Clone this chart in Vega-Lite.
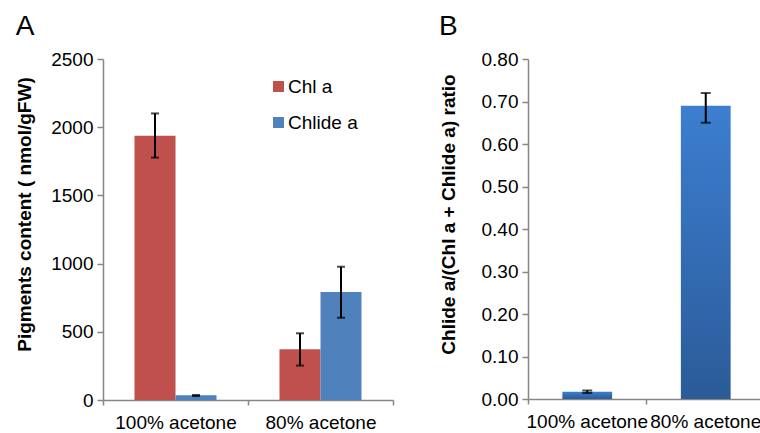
{
  "$schema": "https://vega.github.io/schema/vega-lite/v6.json",
  "background": "white",
  "padding": {"left": 15, "top": 13, "right": 0, "bottom": 0},
  "config": {
    "font": "Liberation Sans",
    "view": {"stroke": null},
    "axis": {"domainColor": "#868686", "tickColor": "#868686", "labelColor": "#000000", "labelFontSize": 19, "titleFontSize": 19, "titleFontWeight": "bold", "titleColor": "#000000", "grid": false, "tickSize": 6, "labelPadding": 4, "domainWidth": 1.5, "tickWidth": 1.5},
    "title": {"fontSize": 28, "fontWeight": "normal", "anchor": "start", "color": "#000000", "frame": "bounds"},
    "concat": {"spacing": 45}
  },
  "hconcat": [
    {
      "title": {"text": "A", "offset": 9},
      "width": 290,
      "height": 341,
      "data": {"values": [
        {"solvent": "100% acetone", "pigment": "Chl a", "value": 1938, "lo": 1777, "hi": 2101},
        {"solvent": "100% acetone", "pigment": "Chlide a", "value": 34, "lo": 29, "hi": 37},
        {"solvent": "80% acetone", "pigment": "Chl a", "value": 372, "lo": 252, "hi": 489},
        {"solvent": "80% acetone", "pigment": "Chlide a", "value": 792, "lo": 603, "hi": 977}
      ]},
      "encoding": {
        "x": {"field": "solvent", "type": "nominal", "sort": ["100% acetone", "80% acetone"], "scale": {"paddingInner": 0, "paddingOuter": 0}, "axis": {"title": null, "labelAngle": 0, "tickBand": "extent", "tickSize": 5, "labelPadding": 8}},
        "xOffset": {"field": "pigment", "type": "nominal", "sort": ["Chl a", "Chlide a"], "scale": {"paddingInner": 0, "paddingOuter": 0.768}}
      },
      "layer": [
        {
          "mark": {"type": "bar"},
          "encoding": {
            "y": {"field": "value", "type": "quantitative", "scale": {"domain": [0, 2500], "nice": false}, "axis": {"title": "Pigments content ( nmol/gFW)", "values": [0, 500, 1000, 1500, 2000, 2500], "format": "d", "titlePadding": 16, "titleY": 155}},
            "color": {"field": "pigment", "type": "nominal", "scale": {"domain": ["Chl a", "Chlide a"], "range": ["#c0504d", "#4f81bd"]}, "legend": {"title": null, "orient": "none", "legendX": 166, "legendY": 18, "symbolType": "square", "symbolSize": 121, "symbolStrokeWidth": 0, "labelFontSize": 19, "rowPadding": 16, "labelOffset": 0}}
          }
        },
        {
          "mark": {"type": "rule", "strokeWidth": 2, "color": "black"},
          "encoding": {"y": {"field": "lo", "type": "quantitative"}, "y2": {"field": "hi"}}
        },
        {
          "mark": {"type": "tick", "size": 8, "thickness": 2, "color": "black"},
          "encoding": {"y": {"field": "lo", "type": "quantitative"}}
        },
        {
          "mark": {"type": "tick", "size": 8, "thickness": 2, "color": "black"},
          "encoding": {"y": {"field": "hi", "type": "quantitative"}}
        }
      ]
    },
    {
      "title": {"text": "B", "offset": 9},
      "width": 237,
      "height": 340,
      "data": {"values": [
        {"solvent": "100% acetone", "ratio": 0.017, "lo": 0.014, "hi": 0.020},
        {"solvent": "80% acetone", "ratio": 0.69, "lo": 0.65, "hi": 0.72}
      ]},
      "encoding": {
        "x": {"field": "solvent", "type": "nominal", "sort": ["100% acetone", "80% acetone"], "scale": {"paddingInner": 0, "paddingOuter": 0}, "axis": {"title": null, "labelAngle": 0, "bandPosition": 0, "tickSize": 5, "labelPadding": 8}}
      },
      "layer": [
        {
          "mark": {"type": "bar", "width": {"band": 0.42}, "color": {"gradient": "linear", "x1": 0, "y1": 0, "x2": 0, "y2": 1, "stops": [{"offset": 0, "color": "#3c7ed0"}, {"offset": 1, "color": "#2b5b98"}]}},
          "encoding": {
            "y": {"field": "ratio", "type": "quantitative", "scale": {"domain": [0, 0.8], "nice": false}, "axis": {"title": "Chlide a/(Chl a + Chlide a) ratio", "values": [0, 0.1, 0.2, 0.3, 0.4, 0.5, 0.6, 0.7, 0.8], "format": ".2f", "titlePadding": 23, "titleY": 155}}
          }
        },
        {
          "mark": {"type": "rule", "strokeWidth": 2, "color": "black"},
          "encoding": {"y": {"field": "lo", "type": "quantitative"}, "y2": {"field": "hi"}}
        },
        {
          "mark": {"type": "tick", "size": 10, "thickness": 2, "color": "black"},
          "encoding": {"y": {"field": "lo", "type": "quantitative"}}
        },
        {
          "mark": {"type": "tick", "size": 10, "thickness": 2, "color": "black"},
          "encoding": {"y": {"field": "hi", "type": "quantitative"}}
        }
      ]
    }
  ]
}
